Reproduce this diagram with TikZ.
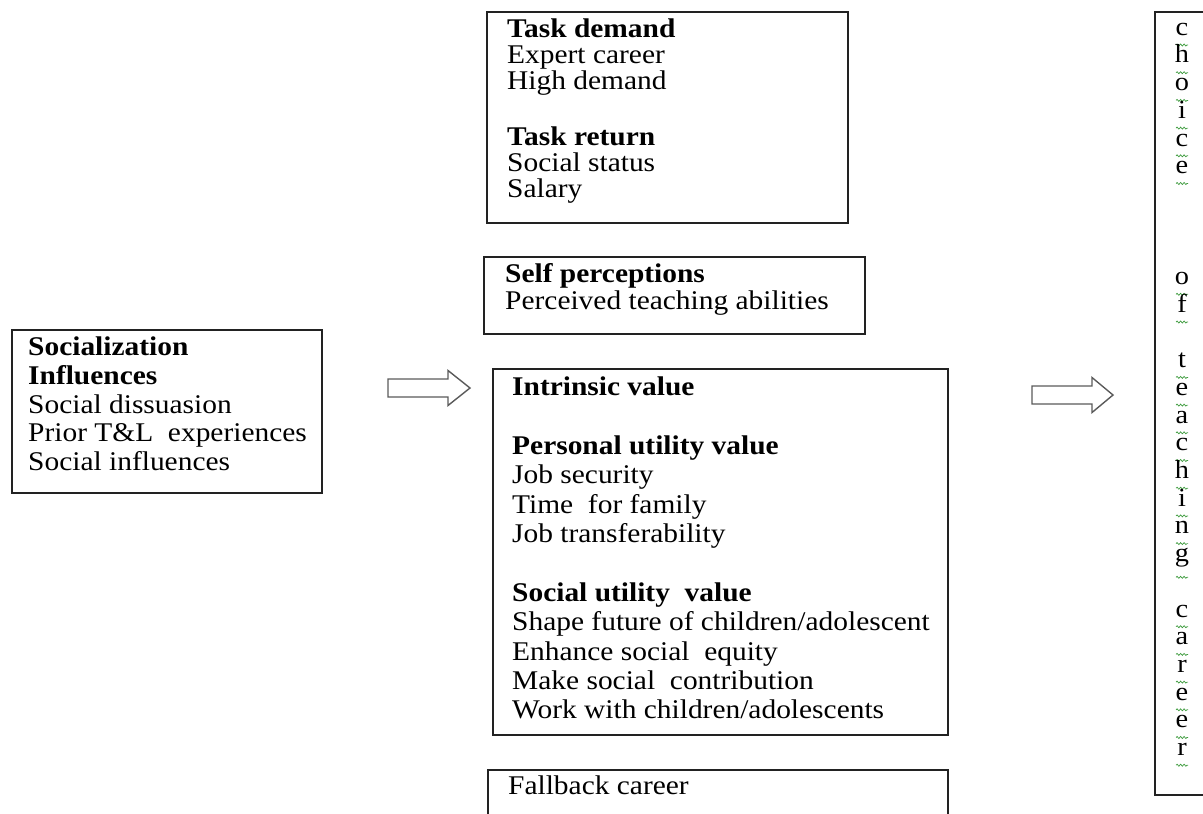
\documentclass[tikz,border=0pt]{standalone}
\usepackage{fontspec}
\setmainfont{Liberation Serif}[FakeStretch=1.09]
\usetikzlibrary{decorations.pathmorphing}
\definecolor{edgecol}{HTML}{222222}
\definecolor{arrowgray}{HTML}{5A5A5A}
\definecolor{squigcol}{HTML}{3C9A3C}
\begin{document}
\begin{tikzpicture}[x=1pt,y=-1pt,
  box/.style={draw=edgecol, line width=1.4pt, anchor=north west, inner sep=0pt, outer sep=0pt},
  txt/.style={anchor=mid west, inner sep=0pt, font=\fontsize{27}{30}\selectfont},
  letter/.style={anchor=mid, inner sep=0pt, font=\fontsize{26}{30}\selectfont},
  blockarrow/.style={draw=arrowgray, line width=1.4pt, fill=white, line join=miter},
  squig/.style={draw=squigcol, line width=0.7pt, decorate, decoration={snake, amplitude=1pt, segment length=3.5pt}}]
\useasboundingbox (0,0) rectangle (1203,814);

% boxes
\node[box, minimum width=310pt, minimum height=163pt] (social) at (12,330) {};
\node[box, minimum width=361pt, minimum height=211pt] (task) at (487,12) {};
\node[box, minimum width=381pt, minimum height=77pt] (self) at (484,257) {};
\node[box, minimum width=455pt, minimum height=366pt] (intr) at (493,369) {};
\node[box, minimum width=460pt, minimum height=120pt] (fall) at (488,770) {};
\node[box, minimum width=90pt, minimum height=783pt] (choice) at (1155,12) {};

% left box text
\node[txt] (s1) at (28,353) {\textbf{Socialization}};
\node[txt] (s2) at (28,382) {\textbf{Influences}};
\node[txt] (s3) at (28,411) {Social dissuasion};
\node[txt] (s4) at (28,439) {Prior T\&L\ \ experiences};
\node[txt] (s5) at (28,468) {Social influences};

% task box text
\node[txt] (t1) at (507,35) {\textbf{Task demand}};
\node[txt] (t2) at (507,61) {Expert career};
\node[txt] (t3) at (507,87) {High demand};
\node[txt] (t4) at (507,143) {\textbf{Task return}};
\node[txt] (t5) at (507,169) {Social status};
\node[txt] (t6) at (507,195) {Salary};

% self box text
\node[txt] (p1) at (505,280) {\textbf{Self perceptions}};
\node[txt] (p2) at (505,307) {Perceived teaching abilities};

% intrinsic box text
\node[txt] (i1) at (512,393) {\textbf{Intrinsic\ value}};
\node[txt] (i2) at (512,452) {\textbf{Personal utility\ value}};
\node[txt] (i3) at (512,481) {Job security};
\node[txt] (i4) at (512,511) {Time\ \ for family};
\node[txt] (i5) at (512,540) {Job transferability};
\node[txt] (i6) at (512,599) {\textbf{Social utility\ \ value}};
\node[txt] (i7) at (512,628) {Shape future of children/adolescent};
\node[txt] (i8) at (512,658) {Enhance social\ \ equity};
\node[txt] (i9) at (512,687) {Make social\ \ contribution};
\node[txt] (i10) at (512,716) {Work with children/adolescents};

% fallback text
\node[txt] (f1) at (508,792) {Fallback career};

% block arrows
\draw[blockarrow] (388,379) -- (448,379) -- (448,370.5) -- (470,388) -- (448,405.5) -- (448,397) -- (388,397) -- cycle;
\draw[blockarrow] (1032,386) -- (1092,386) -- (1092,377.5) -- (1113,395) -- (1092,412.5) -- (1092,404) -- (1032,404) -- cycle;

% vertical letters
\foreach \k/\ch/\dd in {0/c/0,1/h/0,2/o/0,3/i/0,4/c/0,5/e/0,9/o/0,10/f/0,12/t/0,13/e/0,14/a/0,15/c/0,16/h/0,17/i/0,18/n/0,19/g/6,21/c/0,22/a/0,23/r/0,24/e/0,25/e/0,26/r/0}{
  \node[letter] (L\k) at (1182,33+27.7*\k) {\ch};
  \draw[squig] (1176,33+27.7*\k+12+\dd) -- (1188,33+27.7*\k+12+\dd);
}
\end{tikzpicture}
\end{document}
